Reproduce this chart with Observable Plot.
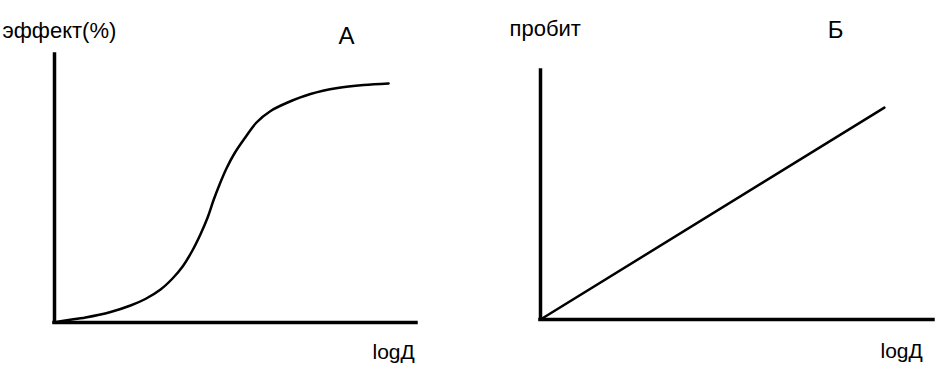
<!DOCTYPE html>
<html>
<head>
<meta charset="utf-8">
<script src="https://cdn.jsdelivr.net/npm/d3@7"></script>
<script src="https://cdn.jsdelivr.net/npm/@observablehq/plot@0.6"></script>
<style>
  html, body { margin: 0; padding: 0; background: #fff; }
  #wrap { display: flex; width: 945px; height: 369px; overflow: hidden; }
  #wrap svg { display: block; }
</style>
</head>
<body>
<div id="wrap"></div>
<script>
// Panel А: sigmoid dose–effect curve
const logDoseA = [0, 0.30, 0.86, 1.55, 2.10, 2.51, 2.93, 3.26, 3.54, 3.81, 4.03, 4.23, 4.39, 4.56, 4.75, 4.97, 5.25, 5.58, 5.97, 6.44, 7.07, 7.82, 8.54, 9.23];
const effectA  = [0, 0.75, 1.87, 3.92, 6.34, 8.77, 12.31, 16.42, 20.90, 26.87, 32.84, 39.18, 45.52, 51.49, 57.46, 63.06, 68.66, 74.63, 78.92, 82.09, 85.26, 87.50, 88.62, 89.18];
// Panel Б: probit vs log dose (straight line)
const logDoseB = [0, 8.75];
const probitB  = [0, 8.51];
// Labels
const yLabelA = "эффект(%)";
const yLabelB = "пробит";
const xLabel = "logД";
const titleA = "А";
const titleB = "Б";

const font = "'Liberation Sans', Arial, sans-serif";
const dataA = logDoseA.map((x, i) => ({x, y: effectA[i]}));
const dataB = logDoseB.map((x, i) => ({x, y: probitB[i]}));

const axisStyle = {stroke: "#000", strokeWidth: 3.5, strokeLinecap: "square"};

const plotA = Plot.plot({
  width: 472, height: 369,
  marginLeft: 54, marginRight: 56, marginTop: 54, marginBottom: 47,
  x: {domain: [0, 10], axis: null},
  y: {domain: [0, 100], axis: null},
  style: {fontFamily: font, background: "#fff", color: "#000"},
  marks: [
    Plot.ruleX([0], axisStyle),
    Plot.ruleY([0], axisStyle),
    Plot.line(dataA, {x: "x", y: "y", curve: "catmull-rom", stroke: "#000", strokeWidth: 2.5}),
    Plot.text([yLabelA], {text: d => d, frameAnchor: "top-left", textAnchor: "start", lineAnchor: "bottom", dx: -52, dy: -17, fontSize: 22, fill: "#000"}),
    Plot.text([titleA], {text: d => d, frameAnchor: "top-left", textAnchor: "middle", lineAnchor: "bottom", dx: 292, dy: -11, fontSize: 24, fill: "#000"}),
    Plot.text([xLabel], {text: d => d, frameAnchor: "bottom-right", textAnchor: "start", lineAnchor: "bottom", dx: -44, dy: 36, fontSize: 21, fill: "#000"})
  ]
});

const plotB = Plot.plot({
  width: 473, height: 369,
  marginLeft: 68, marginRight: 12, marginTop: 70, marginBottom: 50,
  x: {domain: [0, 10], axis: null},
  y: {domain: [0, 10], axis: null},
  style: {fontFamily: font, background: "#fff", color: "#000"},
  marks: [
    Plot.ruleX([0], axisStyle),
    Plot.ruleY([0], axisStyle),
    Plot.line(dataB, {x: "x", y: "y", stroke: "#000", strokeWidth: 2.5}),
    Plot.text([yLabelB], {text: d => d, frameAnchor: "top-left", textAnchor: "start", lineAnchor: "bottom", dx: -31, dy: -35, fontSize: 22, fill: "#000"}),
    Plot.text([titleB], {text: d => d, frameAnchor: "top-left", textAnchor: "middle", lineAnchor: "bottom", dx: 295, dy: -33, fontSize: 24, fill: "#000"}),
    Plot.text([xLabel], {text: d => d, frameAnchor: "bottom-right", textAnchor: "start", lineAnchor: "bottom", dx: -53, dy: 38, fontSize: 21, fill: "#000"})
  ]
});

document.getElementById("wrap").append(plotA, plotB);
</script>
</body>
</html>
